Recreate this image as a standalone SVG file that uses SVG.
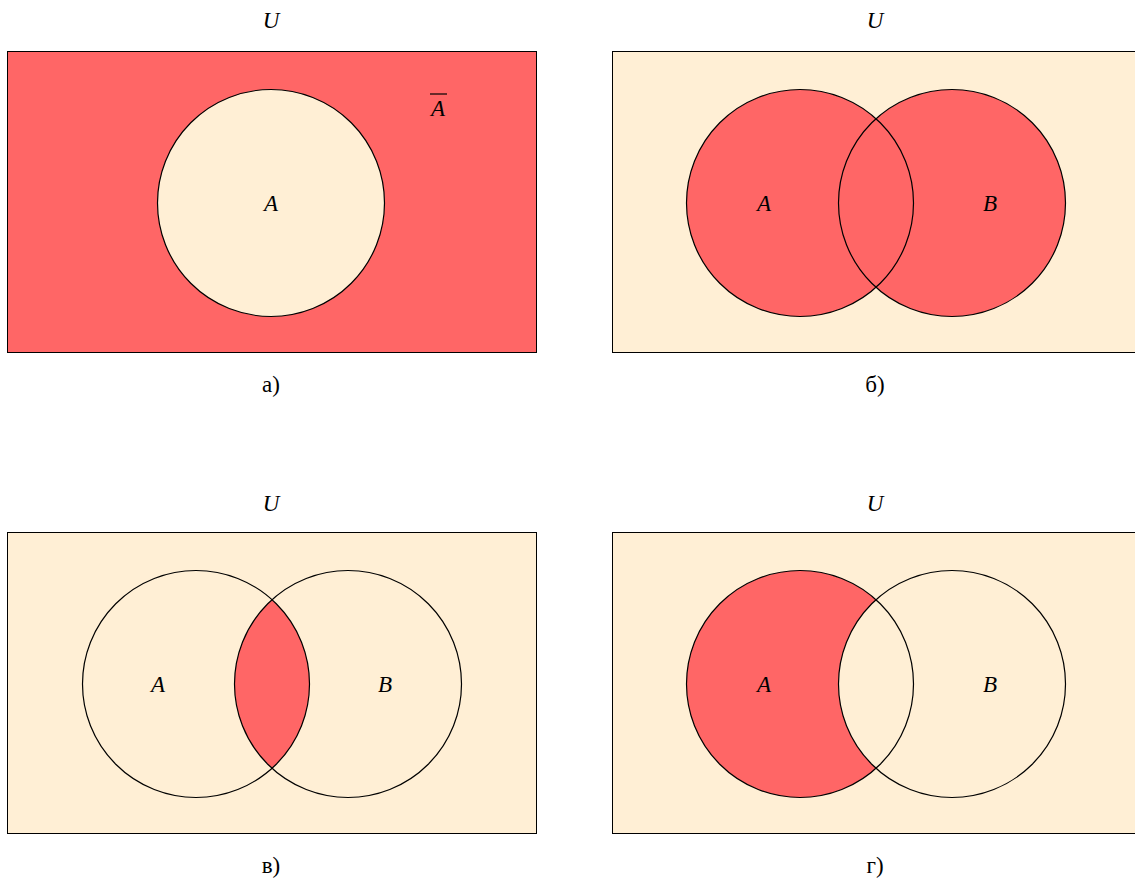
<svg xmlns="http://www.w3.org/2000/svg" width="1135" height="878" viewBox="0 0 1135 878">
<style>
.frame{stroke:#000;stroke-width:1}
.red{fill:#ff6666}
.cream{fill:#ffefd5}
.ol{fill:none;stroke:#000;stroke-width:1.2}
.m{font-family:"Liberation Serif","DejaVu Serif",serif;font-style:italic;font-size:23px;text-anchor:middle}
.cap{font-family:"Liberation Serif","DejaVu Serif",serif;font-size:23px;text-anchor:middle}
</style>
<defs>
<clipPath id="clipA3"><circle cx="196" cy="684" r="113.5"/></clipPath>
</defs>
<g id="panel-a">
<rect class="frame red" x="7.5" y="51.5" width="529" height="301"/>
<circle class="cream" cx="271" cy="203" r="113.5"/>
<circle class="ol" cx="271" cy="203" r="113.5"/>
<text class="m" x="271" y="28">U</text>
<text class="m" x="438" y="116">A</text>
<line x1="430" y1="94" x2="447" y2="94" stroke="#000" stroke-width="1.2"/>
<text class="m" x="271" y="211">A</text>
<text class="cap" x="271" y="392">а)</text>
</g>
<g id="panel-b">
<rect class="frame cream" x="612.5" y="51.5" width="524" height="301"/>
<circle class="red" cx="800" cy="203" r="113.5"/>
<circle class="red" cx="952" cy="203" r="113.5"/>
<circle class="ol" cx="800" cy="203" r="113.5"/>
<circle class="ol" cx="952" cy="203" r="113.5"/>
<text class="m" x="875" y="28">U</text>
<text class="m" x="764" y="211">A</text>
<text class="m" x="990" y="211">B</text>
<text class="cap" x="875" y="392">б)</text>
</g>
<g id="panel-c">
<rect class="frame cream" x="7.5" y="532.5" width="529" height="301"/>
<circle class="red" cx="348" cy="684" r="113.5" clip-path="url(#clipA3)"/>
<circle class="ol" cx="196" cy="684" r="113.5"/>
<circle class="ol" cx="348" cy="684" r="113.5"/>
<text class="m" x="271" y="511">U</text>
<text class="m" x="158" y="692">A</text>
<text class="m" x="385" y="692">B</text>
<text class="cap" x="271" y="873">в)</text>
</g>
<g id="panel-d">
<rect class="frame cream" x="612.5" y="532.5" width="524" height="301"/>
<circle class="red" cx="800" cy="684" r="113.5"/>
<circle class="cream" cx="952" cy="684" r="113.5"/>
<circle class="ol" cx="800" cy="684" r="113.5"/>
<circle class="ol" cx="952" cy="684" r="113.5"/>
<text class="m" x="875" y="511">U</text>
<text class="m" x="764" y="692">A</text>
<text class="m" x="990" y="692">B</text>
<text class="cap" x="875" y="873">г)</text>
</g>
<g id="connectors"></g>
</svg>
